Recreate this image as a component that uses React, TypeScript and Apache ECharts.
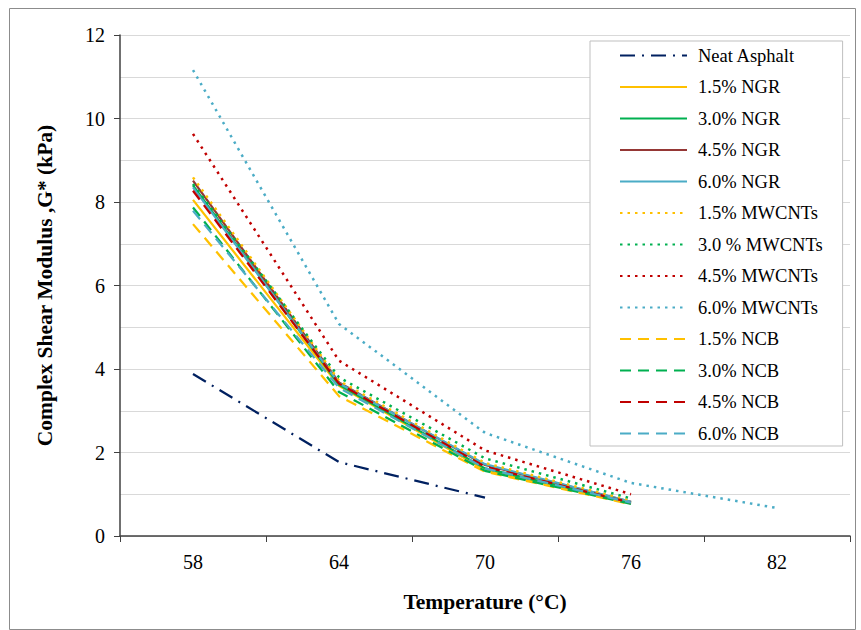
import React, { useEffect, useRef } from "react";
import * as echarts from "echarts";

const categories = ["58", "64", "70", "76", "82"];
const yTicks = [0, 2, 4, 6, 8, 10, 12];

const seriesNames = [
  "Neat Asphalt",
  "1.5% NGR",
  "3.0% NGR",
  "4.5% NGR",
  "6.0% NGR",
  "1.5% MWCNTs",
  "3.0 % MWCNTs",
  "4.5% MWCNTs",
  "6.0% MWCNTs",
  "1.5% NCB",
  "3.0% NCB",
  "4.5% NCB",
  "6.0% NCB",
];

const neatAsphalt = [3.88, 1.77, 0.92, null, null];
const ngr15 = [8.05, 3.6, 1.58, 0.78, null];
const ngr30 = [8.4, 3.62, 1.62, 0.8, null];
const ngr45 = [8.51, 3.68, 1.7, 0.82, null];
const ngr60 = [8.35, 3.66, 1.72, 0.82, null];
const mw15 = [8.59, 3.72, 1.75, 0.84, null];
const mw30 = [8.43, 3.8, 1.86, 0.9, null];
const mw45 = [9.63, 4.2, 2.05, 1.0, null];
const mw60 = [11.16, 5.08, 2.47, 1.27, 0.67];
const ncb15 = [7.47, 3.35, 1.54, 0.76, null];
const ncb30 = [7.87, 3.45, 1.56, 0.77, null];
const ncb45 = [8.27, 3.65, 1.66, 0.8, null];
const ncb60 = [7.79, 3.55, 1.62, 0.8, null];

const seriesData = [
  neatAsphalt, ngr15, ngr30, ngr45, ngr60,
  mw15, mw30, mw45, mw60,
  ncb15, ncb30, ncb45, ncb60,
];

const NAVY = "#002060";
const YELLOW = "#FFC000";
const GREEN = "#00B050";
const BROWN = "#953735";
const TEAL = "#4BACC6";
const RED = "#C00000";

const seriesColors = [
  NAVY, YELLOW, GREEN, BROWN, TEAL,
  YELLOW, GREEN, RED, TEAL,
  YELLOW, GREEN, RED, TEAL,
];

const DASHDOT = [15, 7, 2, 7];
const DOT = [2.5, 5];
const DASH = [11, 7];

const seriesDash: any[] = [
  DASHDOT, "solid", "solid", "solid", "solid",
  DOT, DOT, DOT, DOT,
  DASH, DASH, DASH, DASH,
];

const FONT = "'Liberation Serif', 'Times New Roman', serif";

export default function App() {
  const ref = useRef<HTMLDivElement>(null);

  useEffect(() => {
    document.body.style.margin = "0";
    if (!ref.current) return;
    const chart = echarts.init(ref.current, undefined, { renderer: "svg" });

    const series = seriesNames.map((name, i) => ({
      name,
      type: "line",
      data: seriesData[i],
      symbol: "none",
      showSymbol: false,
      connectNulls: false,
      color: seriesColors[i],
      lineStyle: {
        color: seriesColors[i],
        width: seriesDash[i] === DOT ? 2.5 : 2.25,
        type: seriesDash[i],
        cap: "butt",
      },
      z: 2,
    }));

    chart.setOption({
      animation: false,
      backgroundColor: "#ffffff",
      textStyle: { fontFamily: FONT },
      graphic: [
        {
          type: "rect",
          shape: { x: 9.5, y: 8.5, width: 846, height: 621 },
          style: { fill: "none", stroke: "#8c8c8c", lineWidth: 1 },
          silent: true,
          z: 100,
        },
      ],
      grid: { left: 120, right: 11, top: 35, bottom: 94 },
      legend: {
        orient: "vertical",
        left: 590,
        top: 41,
        data: seriesNames,
        itemWidth: 67,
        itemHeight: 18,
        itemGap: 12.5,
        padding: [5, 20, 3, 29],
        borderColor: "#bfbfbf",
        borderWidth: 1,
        backgroundColor: "#ffffff",
        itemStyle: { opacity: 0, borderWidth: 0 },
        textStyle: {
          fontFamily: FONT,
          fontSize: 18.5,
          color: "#000000",
          lineHeight: 18,
          padding: [0, 0, 0, 6],
        },
        z: 10,
      },
      xAxis: {
        type: "category",
        data: categories,
        boundaryGap: true,
        name: "Temperature (°C)",
        nameLocation: "middle",
        nameGap: 55,
        nameTextStyle: {
          fontFamily: FONT,
          fontSize: 21.5,
          fontWeight: "bold",
          color: "#000000",
        },
        axisLine: { show: true, lineStyle: { color: "#404040", width: 1.5 } },
        axisTick: { show: true, alignWithLabel: false, inside: false, length: 6, lineStyle: { color: "#404040" } },
        axisLabel: { fontFamily: FONT, fontSize: 20, color: "#000000", margin: 16 },
        splitLine: { show: false },
      },
      yAxis: {
        type: "value",
        min: yTicks[0],
        max: yTicks[yTicks.length - 1],
        interval: 2,
        name: "Complex Shear Modulus ,G* (kPa)",
        nameLocation: "middle",
        nameGap: 64,
        nameRotate: 90,
        nameTextStyle: {
          fontFamily: FONT,
          fontSize: 21.5,
          fontWeight: "bold",
          color: "#000000",
        },
        axisLine: { show: true, lineStyle: { color: "#404040", width: 1.5 } },
        axisTick: { show: true, inside: false, length: 6, lineStyle: { color: "#404040" } },
        axisLabel: { fontFamily: FONT, fontSize: 20, color: "#000000", margin: 15 },
        splitLine: { show: true, lineStyle: { color: "#d9d9d9", width: 1 } },
        minorTick: { show: false, splitNumber: 2 },
        minorSplitLine: { show: true, lineStyle: { color: "#d9d9d9", width: 1 } },
      },
      series,
    });

    return () => chart.dispose();
  }, []);

  return <div ref={ref} style={{ width: 861, height: 630 }} />;
}
